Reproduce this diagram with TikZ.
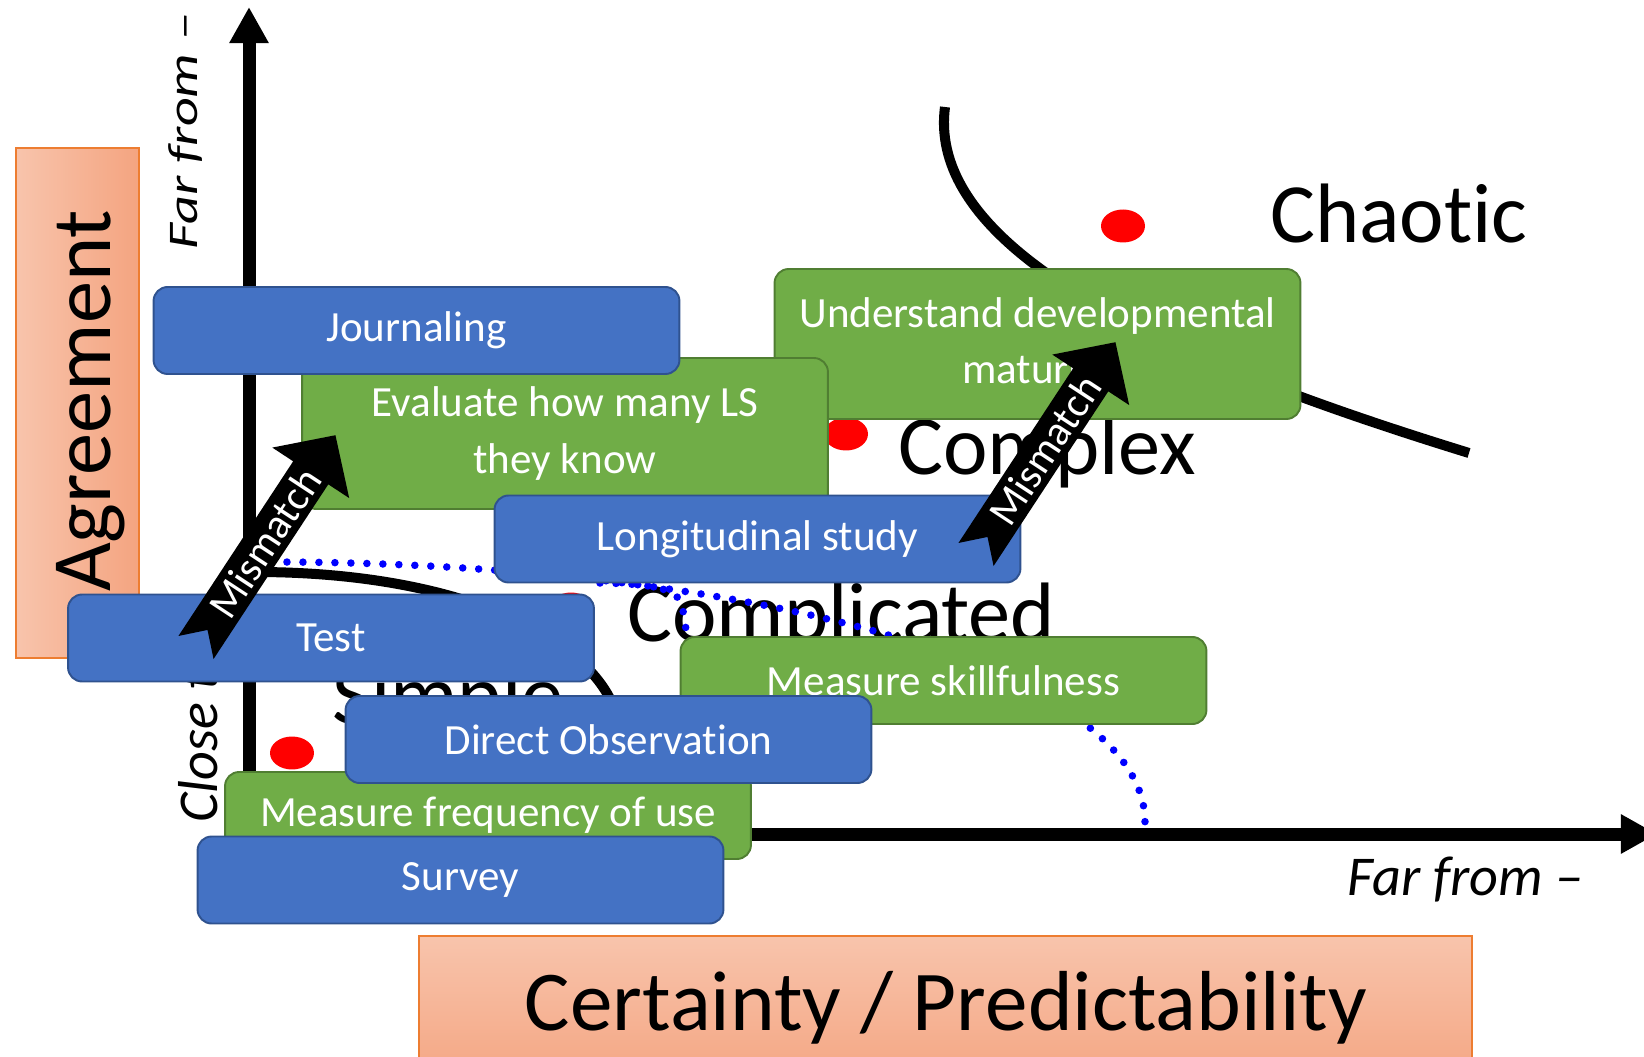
\documentclass[tikz,border=0pt]{standalone}
\usepackage{fontspec}
\setmainfont[Ligatures=NoCommon]{Carlito}
\usepackage{graphicx}
\usepackage{tikz}
\usetikzlibrary{arrows.meta}
\definecolor{blufill}{HTML}{4472C4}
\definecolor{bluedge}{HTML}{2F528F}
\definecolor{grnfill}{HTML}{70AD47}
\definecolor{grnedge}{HTML}{507E32}
\definecolor{orgedge}{HTML}{ED7D31}
\definecolor{salmonlt}{RGB}{248,196,172}
\definecolor{salmondk}{RGB}{244,164,128}

\begin{document}
\begin{tikzpicture}[x=0.02cm,y=-0.02cm,
	axisline/.style={line width=7.4pt,-{Triangle[length=20.5pt,width=21pt]}},
	bound/.style={line width=5.7pt},
	dotline/.style={blue,line width=4.3pt,line cap=round,dash pattern=on 0pt off 9.1pt},
	areaname/.style={anchor=base west,inner sep=0pt,font=\fontsize{48}{56}\selectfont},
	axlabel/.style={inner sep=0pt,font=\fontsize{32}{38}\selectfont\itshape},
	method/.style={rounded corners=8pt,line width=1.1pt,minimum width=10.52cm,minimum height=1.74cm,
		text=white,align=center,inner sep=0pt,font=\fontsize{24.5}{32.4}\selectfont},
	blubox/.style={method,draw=bluedge,fill=blufill},
	grnbox/.style={method,draw=grnedge,fill=grnfill}]
			%\clip (0,0) rectangle (1644,1057);
			\useasboundingbox (0,0) rectangle (1644,1057);
			\draw[orgedge,line width=0.8pt,left color=salmonlt,right color=salmondk] (16,148) rectangle (139,658);
			\draw[orgedge,line width=0.8pt,top color=salmonlt,bottom color=salmondk] (419,936) rectangle (1472,1090);
			\node[rotate=90,anchor=base,inner sep=0pt,font=\fontsize{48}{56}\selectfont] (agree) at (110,401) {Agreement};
			\node[anchor=base,inner sep=0pt,font=\fontsize{48.5}{56}\selectfont] (certain) at (946,1030) {Certainty / Predictability};
			\coordinate (O) at (249,834);
			\coordinate (ytip) at (249,7);
			\coordinate (xtip) at (1657,834);
			\draw[axisline] (O) -- (ytip);
			\draw[axisline] (O) -- (xtip);
			\node[axlabel,rotate=90,anchor=base] (yfar) at (197,131) {\scalebox{1}[0.75]{Far from –}};
			\node[axlabel,rotate=90,anchor=base west] (yclose) at (217,823) {Close to –};
			\node[axlabel,anchor=base west] (xfar) at (1347,895) {Far from –};
			\node[areaname] (chaotic) at (1270,243) {Chaotic};
			\node[areaname] (complex) at (898,475) {Complex};
			\node[areaname] (complicated) at (627,642) {Complicated};
			\node[areaname] (simple) at (332,723) {Simple};
			\draw[bound] (255,572) .. controls (430,572) and (560,620) .. (605,690) .. controls (630,730) and (640,790) .. (645,834);
			\draw[bound] (945,107) .. controls (925,260) and (1200,370) .. (1469,453);
			\foreach \dx/\dy in {292/753, 571/609, 846/434, 1123/226}
				\fill[red] (\dx,\dy) ellipse [x radius=0.44cm,y radius=0.33cm];
			\draw[dotline] (255,562) .. controls (750,560) and (1145,670) .. (1145,822);
			\draw[dotline] (600,583) .. controls (660,584) and (678,590) .. (682,606) .. controls (690,640) and (698,760) .. (702,834);
			\node[grnbox,minimum height=3cm] (understand) at (1037.5,344) {Understand developmental\\maturity};
			\node[grnbox,minimum height=3.02cm] (evaluate) at (565,433.5) {Evaluate how many LS\\they know};
			\node[blubox] (journal) at (416.5,330.5) {Journaling};
			\node[blubox] (longit) at (757.5,539) {Longitudinal study};
			\node[blubox] (test) at (331,638) {Test};
			\node[grnbox] (skill) at (943.5,680.5) {Measure skillfulness};
			\node[grnbox] (freq) at (488,815.5) {Measure frequency of use};
			\node[blubox] (direct) at (608.5,739.5) {Direct Observation};
			\node[blubox] (survey) at (460.5,880) {Survey};
			\foreach \tx/\ty/\nm in {196/647.5/mis1, 976/554.5/mis2}{
				\begin{scope}[shift={(\tx,\ty)},rotate=56.7]
					\fill (0,-21) -- (209,-21) -- (209,-46) -- (254,0) -- (209,46) -- (209,21) -- (0,21) -- (21,0) -- cycle;
					\node[rotate=56.7,text=white,inner sep=0pt,font=\fontsize{24}{28}\selectfont] (\nm) at (125,0) {Mismatch};
				\end{scope}
			}
		\end{tikzpicture}
\end{document}
